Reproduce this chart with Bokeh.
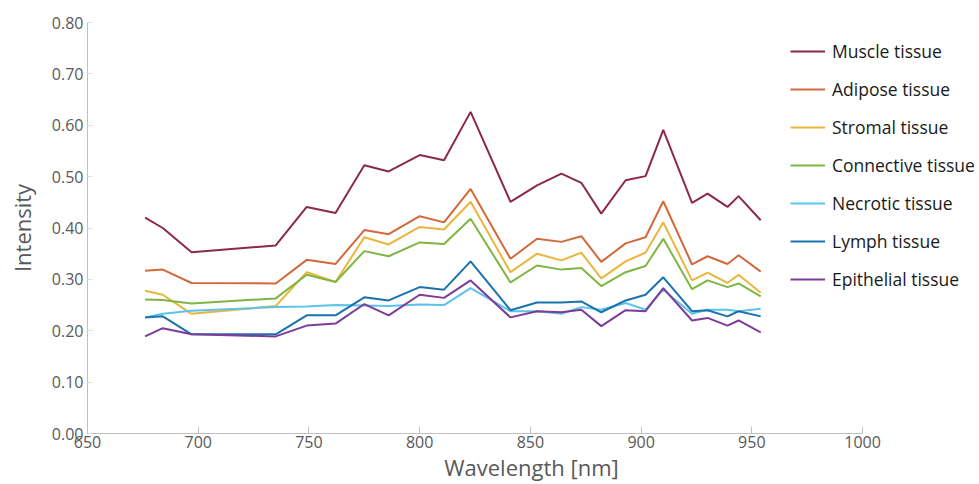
from bokeh.plotting import figure
from bokeh.models import Range1d, FixedTicker, NumeralTickFormatter, Legend, LegendItem, ColumnDataSource
from bokeh.embed import file_html
from bokeh.resources import INLINE

wavelength = [676, 684, 697, 735, 749, 762, 775, 786, 800, 811, 823, 841,
              853, 864, 873, 882, 893, 902, 910, 923, 930, 939, 944, 954]

muscle = [0.420, 0.400, 0.353, 0.366, 0.441, 0.429, 0.522, 0.510, 0.542, 0.532, 0.626, 0.451,
          0.483, 0.506, 0.488, 0.428, 0.493, 0.501, 0.591, 0.449, 0.467, 0.441, 0.462, 0.415]
adipose = [0.317, 0.319, 0.293, 0.292, 0.338, 0.330, 0.396, 0.388, 0.423, 0.411, 0.476, 0.340,
           0.379, 0.373, 0.384, 0.334, 0.370, 0.382, 0.452, 0.329, 0.345, 0.330, 0.347, 0.315]
stromal = [0.278, 0.270, 0.233, 0.248, 0.314, 0.295, 0.382, 0.368, 0.402, 0.397, 0.451, 0.314,
           0.350, 0.337, 0.352, 0.302, 0.335, 0.352, 0.411, 0.298, 0.313, 0.293, 0.309, 0.274]
connective = [0.261, 0.260, 0.253, 0.263, 0.309, 0.295, 0.355, 0.345, 0.372, 0.369, 0.418, 0.294,
              0.327, 0.319, 0.322, 0.287, 0.314, 0.326, 0.379, 0.281, 0.298, 0.285, 0.292, 0.267]
necrotic = [0.226, 0.233, 0.239, 0.246, 0.247, 0.250, 0.249, 0.248, 0.251, 0.250, 0.283, 0.238,
            0.238, 0.233, 0.246, 0.241, 0.254, 0.241, 0.280, 0.233, 0.241, 0.241, 0.238, 0.243]
lymph = [0.226, 0.228, 0.193, 0.193, 0.230, 0.230, 0.265, 0.259, 0.285, 0.280, 0.335, 0.240,
         0.255, 0.255, 0.257, 0.236, 0.259, 0.270, 0.304, 0.238, 0.240, 0.228, 0.238, 0.228]
epithelial = [0.189, 0.205, 0.193, 0.189, 0.210, 0.214, 0.252, 0.230, 0.270, 0.264, 0.298, 0.226,
              0.238, 0.236, 0.241, 0.209, 0.240, 0.238, 0.283, 0.220, 0.225, 0.210, 0.220, 0.197]

series_names = ["Muscle tissue", "Adipose tissue", "Stromal tissue", "Connective tissue",
                "Necrotic tissue", "Lymph tissue", "Epithelial tissue"]
series_values = [muscle, adipose, stromal, connective, necrotic, lymph, epithelial]
series_colors = ["#8B2A46", "#D2693A", "#EBB53D", "#7FB543", "#5CC3EA", "#1B72B0", "#7D3C98"]

x_ticks = [650, 700, 750, 800, 850, 900, 950, 1000]
y_ticks = [0.0, 0.1, 0.2, 0.3, 0.4, 0.5, 0.6, 0.7, 0.8]

FONT = "Open Sans"
GREY_TEXT = "#595959"
AXIS_GREY = "#c0c0c0"

# frame spans 87..975 px; the axis itself is bounded to 650..1000 nm,
# extra room on the right holds the legend (as in the reference)
p = figure(width=977, height=484, output_backend="svg", toolbar_location=None,
           x_range=Range1d(650, 1051), y_range=Range1d(0, 0.8),
           min_border_left=87, min_border_right=2, min_border_top=22, min_border_bottom=50)
p.outline_line_color = None
p.xgrid.visible = False
p.ygrid.visible = False

items = []
for name, vals, col in zip(series_names, series_values, series_colors):
    src = ColumnDataSource(dict(x=wavelength, y=vals))
    r = p.line("x", "y", source=src, line_color=col, line_width=2)
    items.append(LegendItem(label=name, renderers=[r]))

legend = Legend(items=items, location=(703, 142), orientation="vertical",
                label_text_font=FONT, label_text_font_size="17.5px", label_text_color="#1a1a1a",
                glyph_width=35, glyph_height=20, label_height=20, label_standoff=7,
                spacing=14, padding=0, margin=0, border_line_color=None,
                background_fill_alpha=0)
p.add_layout(legend, "center")

xa = p.xaxis[0]
xa.bounds = (650, 1000)
xa.ticker = FixedTicker(ticks=x_ticks)
xa.axis_label = "Wavelength [nm]"
xa.axis_label_text_font = FONT
xa.axis_label_text_font_size = "22px"
xa.axis_label_text_font_style = "normal"
xa.axis_label_text_color = GREY_TEXT
xa.axis_label_standoff = 1
xa.major_label_text_font = FONT
xa.major_label_text_font_size = "16px"
xa.major_label_text_color = GREY_TEXT
xa.major_label_standoff = 2
xa.axis_line_color = AXIS_GREY
xa.major_tick_line_color = AXIS_GREY
xa.major_tick_in = 7
xa.major_tick_out = 0
xa.minor_tick_line_color = None

ya = p.yaxis[0]
ya.ticker = FixedTicker(ticks=y_ticks)
ya.formatter = NumeralTickFormatter(format="0.00")
ya.axis_label = "Intensity"
ya.axis_label_text_font = FONT
ya.axis_label_text_font_size = "22px"
ya.axis_label_text_font_style = "normal"
ya.axis_label_text_color = GREY_TEXT
ya.axis_label_standoff = 12
ya.major_label_text_font = FONT
ya.major_label_text_font_size = "16px"
ya.major_label_text_color = GREY_TEXT
ya.major_label_standoff = 4
ya.axis_line_color = AXIS_GREY
ya.major_tick_line_color = "#e0e0e0"
ya.major_tick_in = 5
ya.major_tick_out = 0
ya.minor_tick_line_color = None

open("out.html", "w").write(file_html(p, INLINE))
